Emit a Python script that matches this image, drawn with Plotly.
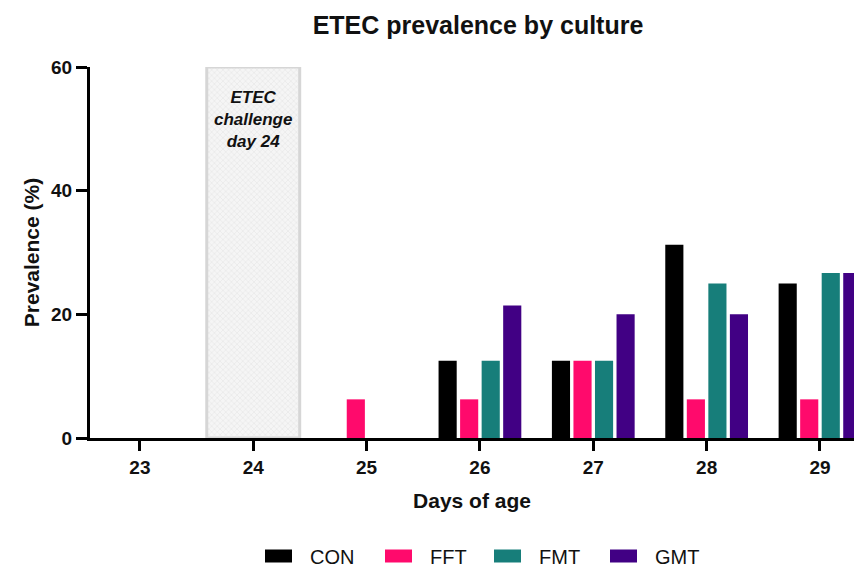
import plotly.graph_objects as go

# Prevalence of ETEC by culture (%) per day of age
days = [23, 24, 25, 26, 27, 28, 29]
groups = ["CON", "FFT", "FMT", "GMT"]
con = [0, 0, 0, 12.5, 12.5, 31.25, 25.0]
fft = [0, 0, 6.25, 6.25, 12.5, 6.25, 6.25]
fmt = [0, 0, 0, 12.5, 12.5, 25.0, 26.67]
gmt = [0, 0, 0, 21.43, 20.0, 20.0, 26.67]
colors = ["#000000", "#FF0A6C", "#177E7A", "#410084"]

challenge_day = [24]
challenge_top = [60]
challenge_label = "ETEC<br>challenge<br>day 24"

y_ticks = [0, 20, 40, 60]

FONT = "Arial, Liberation Sans, sans-serif"
INK = "#111111"

# plot area in pixels (used to place the custom legend below the axes)
W, H = 854, 570
ML, MR, MT, MB = 90, 0, 67, 132
PW, PH = W - ML - MR, H - MT - MB


def px_x(px):
    return (px - ML) / PW


def px_y(py):
    return (H - MB - py) / PH


fig = go.Figure()

# shaded challenge window behind the bars
fig.add_trace(go.Bar(
    x=challenge_day, y=challenge_top, width=0.82,
    marker=dict(color="#f2f2f2",
                line=dict(color="#d6d6d6", width=3),
                pattern=dict(shape="x", fgcolor="#d0d0d0", bgcolor="#f5f5f5",
                             size=4, solidity=0.25)),
    showlegend=False, hoverinfo="skip",
))

bar_w = 0.16
centers = [-0.285, -0.095, 0.095, 0.285]
for name, vals, col, c in zip(groups, [con, fft, fmt, gmt], colors, centers):
    fig.add_trace(go.Bar(
        x=days, y=vals, name=name, width=bar_w, offset=c - bar_w / 2,
        marker=dict(color=col, line=dict(width=0)),
        showlegend=False,
    ))

fig.add_annotation(
    x=24, y=57.0, xref="x", yref="y", text=challenge_label, showarrow=False,
    yanchor="top", align="center",
    font=dict(family=FONT, size=17, color=INK, weight="bold", style="italic"),
)

# legend: wide swatch + label per group
legend_x = [265, 385, 494, 610]
legend_y = 556
for name, col, lx in zip(groups, colors, legend_x):
    fig.add_shape(
        type="rect", xref="paper", yref="paper",
        x0=px_x(lx), x1=px_x(lx + 27),
        y0=px_y(legend_y + 6.5), y1=px_y(legend_y - 6.5),
        fillcolor=col, line=dict(width=0),
    )
    fig.add_annotation(
        x=px_x(lx + 43), y=px_y(legend_y + 1), xref="paper", yref="paper",
        text=name, showarrow=False, xanchor="left", yanchor="middle",
        font=dict(family=FONT, size=20, color=INK),
    )

fig.update_layout(
    width=W, height=H,
    margin=dict(l=ML, r=MR, t=MT, b=MB),
    barmode="overlay",
    plot_bgcolor="white", paper_bgcolor="white",
    font=dict(family=FONT, color=INK),
    showlegend=False,
    title=dict(text="ETEC prevalence by culture", x=478 / W, xanchor="center",
               y=1 - 25 / H, yanchor="middle",
               font=dict(family=FONT, size=25, weight="bold", color=INK)),
    xaxis=dict(
        range=[22.56, 29.30], tickvals=days, ticktext=[str(d) for d in days],
        showline=True, linecolor="#000000", linewidth=3,
        ticks="outside", ticklen=10, tickwidth=3, tickcolor="#000000",
        showgrid=False, zeroline=False,
        tickfont=dict(family=FONT, size=19, weight="bold", color=INK),
        title=dict(text="Days of age", standoff=17,
                   font=dict(family=FONT, size=21, weight="bold", color=INK)),
    ),
    yaxis=dict(
        range=[0, 60], tickvals=y_ticks,
        showline=True, linecolor="#000000", linewidth=3,
        ticks="outside", ticklen=11, tickwidth=3, tickcolor="#000000",
        showgrid=False, zeroline=False,
        tickfont=dict(family=FONT, size=19, weight="bold", color=INK),
        title=dict(text="Prevalence (%)", standoff=6,
                   font=dict(family=FONT, size=21, weight="bold", color=INK)),
    ),
)

fig.write_html("out.html")
